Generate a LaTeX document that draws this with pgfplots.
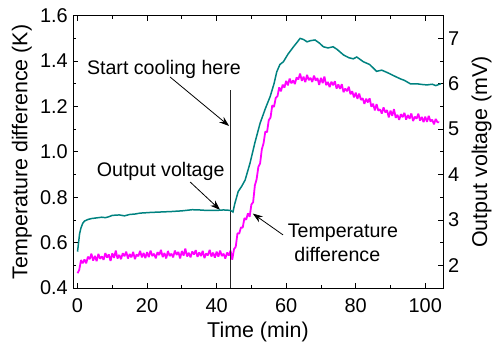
\documentclass[border=0pt]{standalone}
\usepackage{fontspec}
\setmainfont{Liberation Sans}
\usepackage{pgfplots}
\pgfplotsset{compat=1.18}
\usetikzlibrary{arrows.meta}
\definecolor{tealc}{RGB}{0,130,128}
\definecolor{magc}{RGB}{255,0,255}

\begin{document}
\begin{tikzpicture}
\useasboundingbox (0,0) rectangle (494bp,346bp);
\pgfplotsset{
  base/.style={
    at={(73bp,58bp)}, anchor=south west, scale only axis,
    width=370bp, height=272.3bp,
    xmin=-1.3, xmax=105.1,
    tick align=inside, major tick length=5bp, minor tick length=3bp,
    axis line style={line width=0.9pt},
    every tick/.style={line width=0.8pt, black},
    /pgf/number format/assume math mode=true,
    tick label style={font=\fontsize{20}{24}\selectfont},
    label style={font=\fontsize{21.5}{26}\selectfont},
  }
}
\begin{axis}[base,
  ymin=0.4, ymax=1.6,
  ytick={0.4,0.6,0.8,1.0,1.2,1.4,1.6}, minor y tick num=1,
  xtick={0,20,40,60,80,100}, minor x tick num=1,
  xtick pos=both, ytick pos=left,
  yticklabel style={anchor=east, inner sep=0pt, xshift=-5bp, /pgf/number format/.cd, fixed, fixed zerofill, precision=1},
  xticklabel style={anchor=north, inner sep=0pt, yshift=-10bp},
  xlabel={Time (min)},
  xlabel style={at={(axis description cs:0.5,-0.18)}, anchor=base},
  ylabel={Temperature difference (K)},
  ylabel style={at={(axis description cs:-0.123,0.5)}, anchor=base},
]
\addplot[magc, line width=1.8pt, line join=bevel] table {
t L
0.0 0.465
0.5 0.480
1.0 0.523
1.5 0.509
2.0 0.526
2.5 0.509
3.0 0.538
3.5 0.527
4.0 0.551
4.5 0.521
5.0 0.541
5.5 0.518
6.0 0.550
6.5 0.529
7.0 0.539
7.5 0.524
8.0 0.554
8.5 0.534
9.0 0.548
9.5 0.519
10.0 0.553
10.5 0.533
11.0 0.565
11.5 0.530
12.0 0.546
12.5 0.527
13.0 0.553
13.5 0.540
14.0 0.560
14.5 0.530
15.0 0.550
15.5 0.535
16.0 0.559
16.5 0.527
17.0 0.548
17.5 0.540
18.0 0.564
18.5 0.535
19.0 0.554
19.5 0.532
20.0 0.558
20.5 0.536
21.0 0.565
21.5 0.541
22.0 0.551
22.5 0.531
23.0 0.558
23.5 0.545
24.0 0.568
24.5 0.536
25.0 0.554
25.5 0.530
26.0 0.563
26.5 0.541
27.0 0.551
27.5 0.535
28.0 0.565
28.5 0.546
29.0 0.559
29.5 0.530
30.0 0.563
30.5 0.543
31.0 0.574
31.5 0.539
32.0 0.555
32.5 0.535
33.0 0.561
33.5 0.548
34.0 0.567
34.5 0.537
35.0 0.557
35.5 0.541
36.0 0.564
36.5 0.532
37.0 0.552
37.5 0.544
38.0 0.568
38.5 0.539
39.0 0.556
39.5 0.534
40.0 0.560
40.5 0.538
41.0 0.565
41.5 0.541
42.0 0.551
42.5 0.530
43.0 0.556
43.5 0.543
44.0 0.565
44.5 0.525
45.0 0.571
45.5 0.582
46.0 0.641
46.5 0.640
47.0 0.667
47.5 0.666
48.0 0.708
48.5 0.701
49.0 0.729
49.5 0.714
50.0 0.768
50.5 0.778
51.0 0.852
51.5 0.879
52.0 0.933
52.5 0.949
53.0 1.011
53.5 1.038
54.0 1.089
54.5 1.087
55.0 1.140
55.5 1.151
56.0 1.205
56.5 1.198
57.0 1.238
57.5 1.245
58.0 1.284
58.5 1.267
59.0 1.296
59.5 1.283
60.0 1.313
60.5 1.293
61.0 1.323
61.5 1.302
62.0 1.315
62.5 1.299
63.0 1.328
63.5 1.319
64.0 1.345
64.5 1.313
65.0 1.331
65.5 1.307
66.0 1.339
66.5 1.316
67.0 1.326
67.5 1.308
68.0 1.336
68.5 1.314
69.0 1.325
69.5 1.295
70.0 1.326
70.5 1.303
71.0 1.332
71.5 1.294
72.0 1.308
72.5 1.285
73.0 1.309
73.5 1.294
74.0 1.311
74.5 1.279
75.0 1.297
75.5 1.278
76.0 1.298
76.5 1.263
77.0 1.279
77.5 1.267
78.0 1.287
78.5 1.254
79.0 1.267
79.5 1.240
80.0 1.261
80.5 1.234
81.0 1.257
81.5 1.229
82.0 1.236
82.5 1.212
83.0 1.234
83.5 1.218
84.0 1.236
84.5 1.199
85.0 1.212
85.5 1.183
86.0 1.210
86.5 1.182
87.0 1.187
87.5 1.169
88.0 1.196
88.5 1.174
89.0 1.184
89.5 1.152
90.0 1.182
90.5 1.159
91.0 1.188
91.5 1.150
92.0 1.163
92.5 1.141
93.0 1.166
93.5 1.153
94.0 1.172
94.5 1.142
95.0 1.162
95.5 1.146
96.0 1.169
96.5 1.136
97.0 1.155
97.5 1.146
98.0 1.168
98.5 1.138
99.0 1.154
99.5 1.131
100.0 1.155
100.5 1.132
101.0 1.159
101.5 1.134
102.0 1.142
102.5 1.121
103.0 1.145
103.5 1.131
104.0 1.130
};
\draw[line width=0.8pt, black!85] (axis cs:44.1,0.4) -- (axis cs:44.1,1.273);
\node[anchor=base west, inner sep=0pt, font=\fontsize{19.7}{24}\selectfont] at (axis cs:2.68,1.343) {Start cooling here};
\node[anchor=base west, inner sep=0pt, font=\fontsize{19.7}{24}\selectfont] at (axis cs:5.5,0.892) {Output voltage};
\node[anchor=base west, inner sep=0pt, font=\fontsize{19.7}{24}\selectfont] at (axis cs:60.4,0.621) {Temperature};
\node[anchor=base west, inner sep=0pt, font=\fontsize{19.7}{24}\selectfont] at (axis cs:62.3,0.515) {difference};
\draw[line width=0.8pt, -{Stealth[length=10bp, width=7bp]}] (axis cs:26.6,1.330) -- (axis cs:43.6,1.114);
\draw[line width=0.8pt, -{Stealth[length=10bp, width=7bp]}] (axis cs:32.4,0.867) -- (axis cs:41.0,0.744);
\draw[line width=0.8pt, -{Stealth[length=10bp, width=7bp]}] (axis cs:59.1,0.634) -- (axis cs:50.4,0.728);
\end{axis}
\begin{axis}[base,
  ymin=1.5, ymax=7.5,
  axis y line*=right, hide x axis,
  ytick={2,3,4,5,6,7}, minor y tick num=1,
  yticklabel style={anchor=west, inner sep=0pt, xshift=5bp},
  ylabel={Output voltage (mV)},
  ylabel style={at={(axis description cs:1.1195,0.5)}, anchor=base},
]
\addplot[tealc, line width=1.5pt] table {
t V
0.0 2.30
0.3 2.50
0.6 2.70
1.0 2.825
1.5 2.925
2.0 2.975
3.0 3.01
4.0 3.03
5.0 3.04
6.0 3.05
7.0 3.06
8.0 3.05
9.0 3.07
10.0 3.10
12.0 3.11
13.5 3.09
15.0 3.12
16.5 3.13
18.0 3.15
21.0 3.165
24.0 3.175
27.0 3.185
30.0 3.20
33.0 3.225
35.0 3.22
37.0 3.21
40.0 3.21
42.0 3.22
44.0 3.21
44.7 3.175
45.2 3.35
46.2 3.625
47.2 3.74
48.2 3.88
49.6 4.25
51.0 4.70
52.5 5.13
54.0 5.45
55.4 5.72
56.5 6.00
57.3 6.265
58.2 6.425
59.2 6.485
60.5 6.65
62.1 6.815
63.0 6.90
64.0 7.00
65.0 6.975
66.0 6.925
67.0 6.95
68.3 6.965
69.5 6.90
70.7 6.815
72.0 6.79
73.5 6.815
74.6 6.76
76.5 6.635
78.0 6.575
79.3 6.55
80.3 6.59
82.2 6.485
84.0 6.425
86.0 6.275
87.5 6.30
89.0 6.25
91.0 6.175
92.8 6.11
94.0 6.075
95.7 6.00
97.6 6.00
99.0 5.985
100.5 5.975
102.0 5.99
103.0 5.96
104.5 6.00
};
\end{axis}
\end{tikzpicture}
\end{document}
